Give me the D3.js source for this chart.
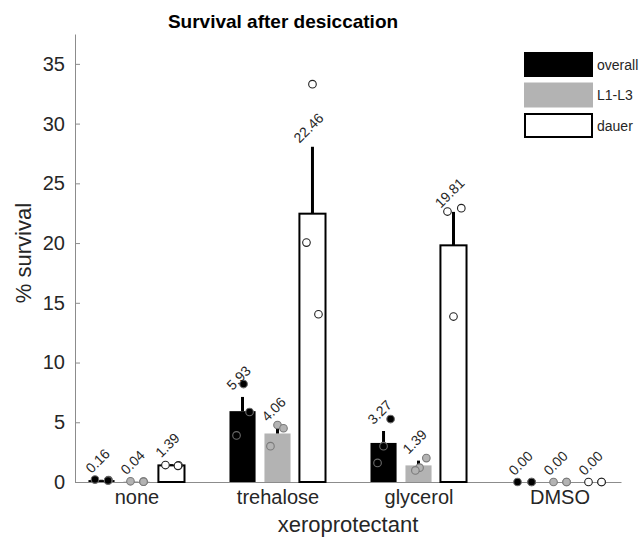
<!DOCTYPE html>
<html>
<head>
<meta charset="utf-8">
<script src="https://cdn.jsdelivr.net/npm/d3@7"></script>
<style>
  body { margin: 0; background: #fff; }
  svg text { font-family: "Liberation Sans", Arial, Helvetica, sans-serif; fill: #262626; }
</style>
</head>
<body>
<script>
// data
var groups = ["none", "trehalose", "glycerol", "DMSO"];
var seriesNames = ["overall", "L1-L3", "dauer"];

var overallMean = [0.16, 5.93, 3.27, 0.00];
var l1l3Mean    = [0.04, 4.06, 1.39, 0.00];
var dauerMean   = [1.39, 22.46, 19.81, 0.00];

var overallErr = [0.03, 1.19, 1.00, 0];
var l1l3Err    = [0.01, 0.45, 0.40, 0];
var dauerErr   = [0.10, 5.60, 2.80, 0];

// individual replicates
var overallPts = [[0.20, 0.16, 0.12], [8.20, 5.86, 3.90], [5.27, 3.00, 1.60], [0, 0, 0]];
var l1l3Pts    = [[0.06, 0.03, 0.03], [4.77, 4.50, 3.00], [2.00, 1.20, 0.97], [0, 0, 0]];
var dauerPts   = [[1.42, 1.40, 1.35], [33.30, 20.04, 14.04], [22.64, 22.92, 13.85], [0, 0, 0]];

// horizontal scatter of replicates, as fraction of bar width
var overallJit = [[-0.25, 0.27, 0.25], [0.04, 0.27, -0.23], [0.27, 0, -0.23], [-0.27, 0.27, 0.27]];
var l1l3Jit    = [[-0.23, 0.27, 0.27], [0, 0.23, -0.27], [0.30, 0.04, -0.12], [-0.23, 0.27, 0.27]];
var dauerJit   = [[-0.23, 0.27, 0.25], [0, -0.23, 0.23], [-0.23, 0.30, 0], [-0.23, 0.27, 0.27]];

var yTicks = [0, 5, 10, 15, 20, 25, 30, 35];

var w = 643, h = 538;

var svg = d3.select("body").append("svg")
  .attr("width", w)
  .attr("height", h);

var x = d3.scalePoint()
  .domain(groups)
  .range([75, 621])
  .padding(0.436);

var y = d3.scaleLinear()
  .domain([0, 37.5])
  .range([482, 34]);

var step = x.step();
var barW = step * 0.185;
var offs = [-0.248 * step, 0, 0.248 * step];

var styles = [
  {fill: "#000", stroke: "none", sw: 0, pfill: "#000", pstroke: "#6a6a6a"},
  {fill: "#b3b3b3", stroke: "none", sw: 0, pfill: "#b3b3b3", pstroke: "#7a7a7a"},
  {fill: "#fff", stroke: "#000", sw: 2, pfill: "#fff", pstroke: "#222"}
];

// build rows from the arrays
var means = [overallMean, l1l3Mean, dauerMean];
var errs = [overallErr, l1l3Err, dauerErr];
var pts = [overallPts, l1l3Pts, dauerPts];
var jits = [overallJit, l1l3Jit, dauerJit];

var rows = [];
seriesNames.forEach(function(s, si) {
  groups.forEach(function(g, gi) {
    rows.push({
      group: g, si: si,
      mean: means[si][gi], err: errs[si][gi],
      pts: pts[si][gi], jit: jits[si][gi],
      cx: x(g) + offs[si]
    });
  });
});

// axes
var yAxis = svg.append("g")
  .attr("transform", "translate(75,0)")
  .call(d3.axisLeft(y).tickValues(yTicks).tickSize(-5).tickSizeOuter(0).tickPadding(10));
yAxis.selectAll("text").style("font-size", "20px");
yAxis.selectAll("line, path").attr("stroke", "#8c8c8c");

var xAxis = svg.append("g")
  .attr("transform", "translate(0,482)")
  .call(d3.axisBottom(x).tickSize(0).tickSizeOuter(0).tickPadding(8));
xAxis.selectAll("text").style("font-size", "20px");
xAxis.select("path").attr("stroke", "#8c8c8c");

// bars
svg.append("g").selectAll("rect")
  .data(rows)
  .enter()
  .append("rect")
    .attr("x", function(d) { return d.cx - barW / 2; })
    .attr("y", function(d) { return y(d.mean); })
    .attr("width", barW)
    .attr("height", function(d) { return y(0) - y(d.mean); })
    .attr("fill", function(d) { return styles[d.si].fill; })
    .attr("stroke", function(d) { return styles[d.si].stroke; })
    .attr("stroke-width", function(d) { return styles[d.si].sw; });

// upper error bars
svg.append("g").selectAll("line")
  .data(rows.filter(function(d) { return d.err > 0; }))
  .enter()
  .append("line")
    .attr("x1", function(d) { return d.cx; })
    .attr("x2", function(d) { return d.cx; })
    .attr("y1", function(d) { return y(d.mean); })
    .attr("y2", function(d) { return y(d.mean + d.err); })
    .attr("stroke", "#000")
    .attr("stroke-width", 3);

// replicate points
var ptRows = [];
rows.forEach(function(d) {
  d.pts.forEach(function(v, i) {
    ptRows.push({v: v, si: d.si, px: d.cx + d.jit[i] * barW});
  });
});
svg.append("g").selectAll("circle")
  .data(ptRows)
  .enter()
  .append("circle")
    .attr("cx", function(d) { return d.px; })
    .attr("cy", function(d) { return y(d.v); })
    .attr("r", 3.8)
    .attr("fill", function(d) { return styles[d.si].pfill; })
    .attr("stroke", function(d) { return styles[d.si].pstroke; })
    .attr("stroke-width", 1.1);

// value labels
svg.append("g").selectAll("text")
  .data(rows)
  .enter()
  .append("text")
    .attr("transform", function(d) {
      return "translate(" + (d.cx - 4) + "," + (y(d.mean + d.err) - 19) + ") rotate(-45)";
    })
    .attr("text-anchor", "middle")
    .attr("dominant-baseline", "central")
    .style("font-size", "14px")
    .text(function(d) { return d.mean.toFixed(2); });

// titles
svg.append("text")
  .attr("x", 283).attr("y", 28)
  .attr("text-anchor", "middle")
  .style("font-size", "19px")
  .style("font-weight", "bold")
  .style("fill", "#000")
  .text("Survival after desiccation");

svg.append("text")
  .attr("x", 348).attr("y", 532)
  .attr("text-anchor", "middle")
  .style("font-size", "22px")
  .text("xeroprotectant");

svg.append("text")
  .attr("transform", "translate(31,253) rotate(-90)")
  .attr("text-anchor", "middle")
  .style("font-size", "22px")
  .text("% survival");

// legend
var legend = svg.append("g").attr("transform", "translate(524,52)");
seriesNames.forEach(function(s, i) {
  var st = styles[i];
  legend.append("rect")
    .attr("x", st.sw / 2).attr("y", i * 30.5 + st.sw / 2)
    .attr("width", 69 - st.sw).attr("height", 25 - st.sw)
    .attr("fill", st.fill)
    .attr("stroke", st.stroke)
    .attr("stroke-width", st.sw);
  legend.append("text")
    .attr("x", 73).attr("y", i * 30.5 + 12.5)
    .attr("dominant-baseline", "central")
    .style("font-size", "14px")
    .text(s);
});
</script>
</body>
</html>
